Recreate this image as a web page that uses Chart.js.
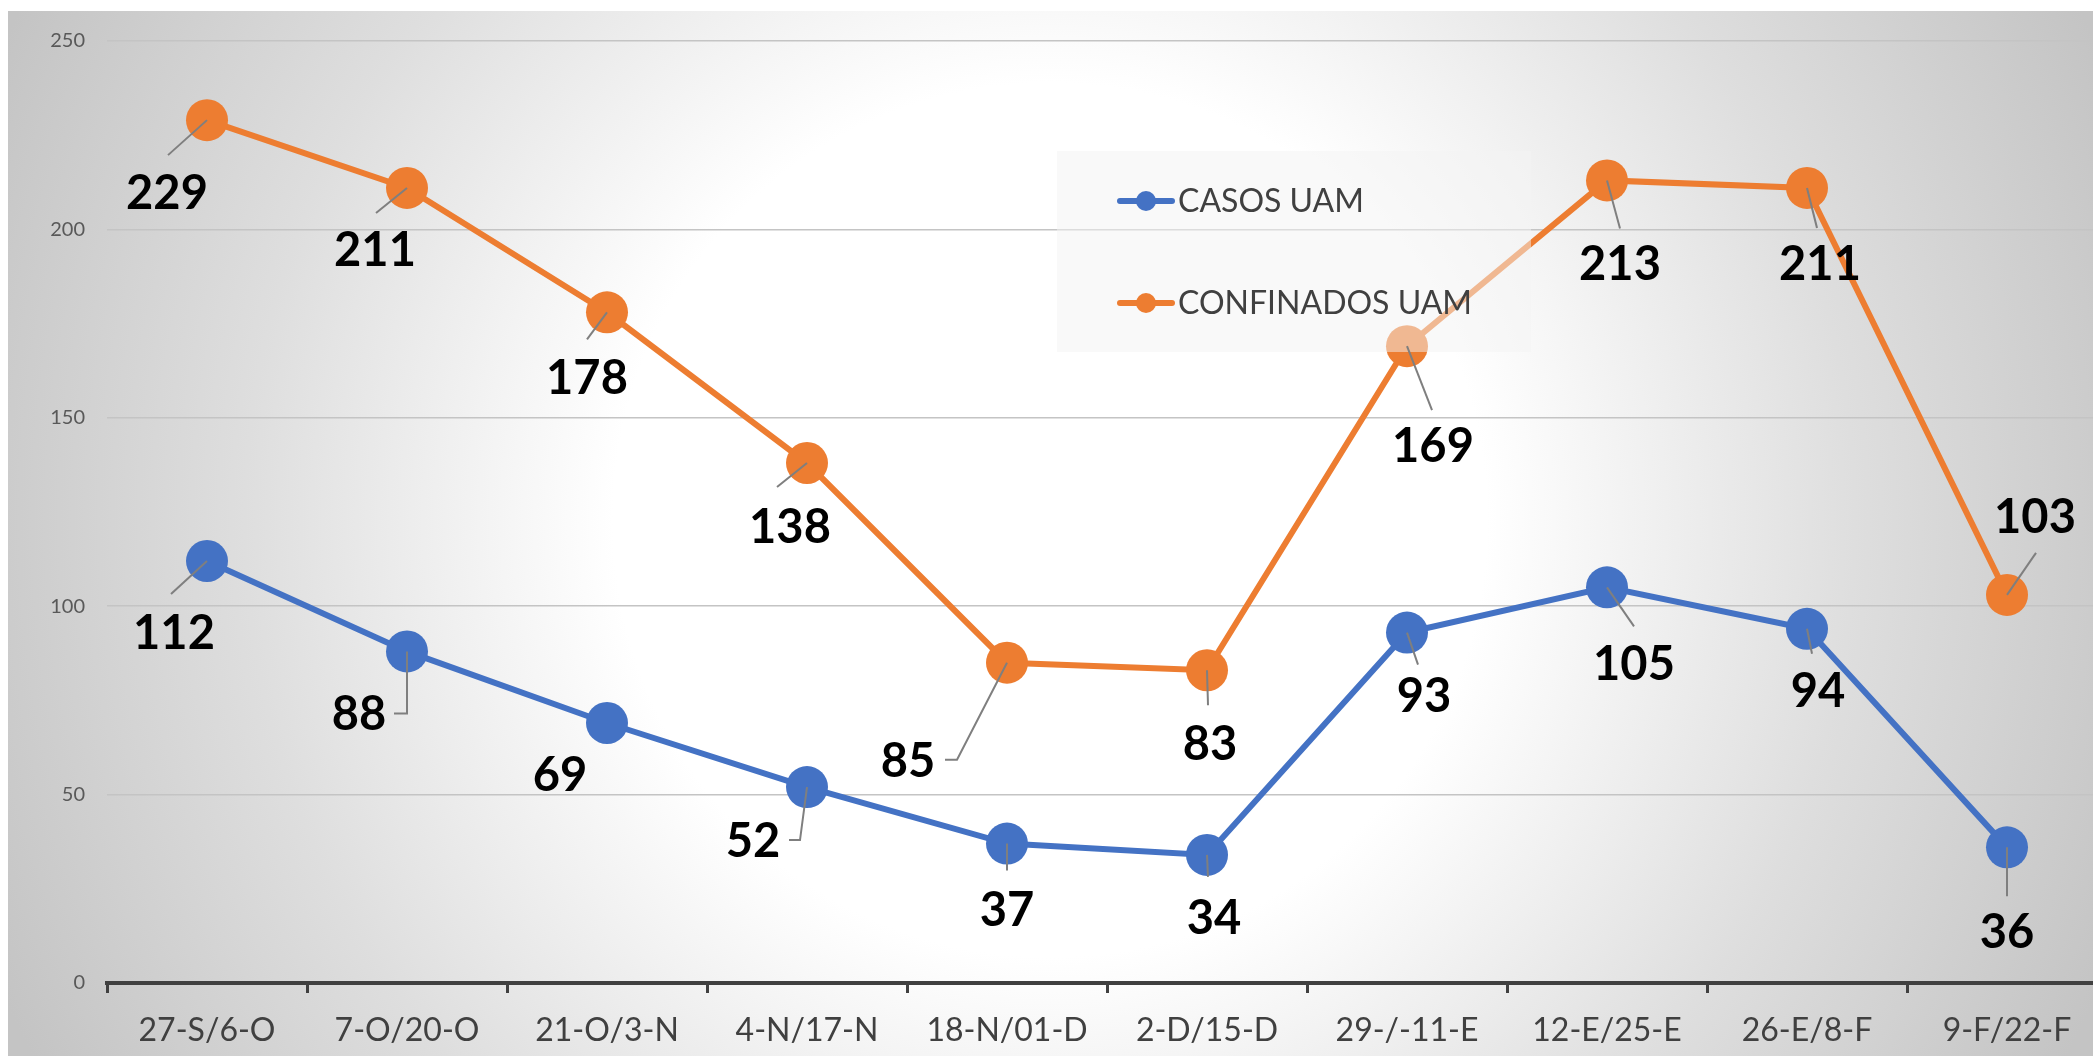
<!DOCTYPE html>
<html>
<head>
<meta charset="utf-8">
<title>Casos y confinados UAM</title>
<script src="https://cdn.jsdelivr.net/npm/chart.js@4/dist/chart.umd.min.js"></script>
<style>
    html, body { margin: 0; padding: 0; background: #ffffff; overflow: hidden; }
    #chartCanvas { display: block; }
</style>
</head>
<body>
<canvas id="chartCanvas" width="2200" height="1056"></canvas>
<script>
// ============================================================================
// Data
// ============================================================================
const periodLabels = [
    '27-S/6-O', '7-O/20-O', '21-O/3-N', '4-N/17-N', '18-N/01-D',
    '2-D/15-D', '29-/-11-E', '12-E/25-E', '26-E/8-F', '9-F/22-F'
];
const casosUam = [112, 88, 69, 52, 37, 34, 93, 105, 94, 36];
const confinadosUam = [229, 211, 178, 138, 85, 83, 169, 213, 211, 103];
const yTicks = [0, 50, 100, 150, 200, 250];

// label placement: [labelDx, labelDy, leaderDx, leaderDy, elbowDx]
const casosLabelPos = [
    [-33, 73, -36, 33], [-48, 63, 0, 62, -13], [-47, 53], [-54, 55, -7, 53, -18], [0, 67, 0, 27],
    [7, 64, 1, 22], [17, 64, 11, 32], [27, 77, 27, 39], [11, 63, 5, 25], [0, 85, 0, 49]
];
const confinadosLabelPos = [
    [-40, 74, -39, 35], [-32, 63, -31, 25], [-20, 67, -20, 27], [-17, 65, -30, 24], [-99, 99, -50, 97, -62],
    [3, 75, 1, 35], [26, 101, 25, 64], [13, 84, 13, 48], [13, 77, 10, 40], [28, -77, 29, -42]
];

const BLUE = '#4472C4';
const ORANGE = '#ED7D31';
const FONT = 'Lato, "Open Sans", "Noto Sans", sans-serif';

// ============================================================================
// Plugins
// ============================================================================
const backgroundPlugin = {
    id: 'gradientBackground',
    beforeDraw(chart) {
        const ctx = chart.ctx;
        ctx.save();
        ctx.fillStyle = '#ffffff';
        ctx.fillRect(0, 0, chart.width, chart.height);
        const grad = ctx.createRadialGradient(1050, 520, 0, 1050, 520, 1150);
        grad.addColorStop(0, '#ffffff');
        grad.addColorStop(0.38, '#ffffff');
        grad.addColorStop(0.7, '#dedede');
        grad.addColorStop(1, '#c4c4c4');
        ctx.fillStyle = grad;
        ctx.fillRect(8, 11, chart.width - 8, chart.height - 11);
        ctx.restore();
    }
};

const legendBoxPlugin = {
    id: 'legendBox',
    afterDatasetsDraw(chart) {
        const ctx = chart.ctx;
        ctx.save();
        ctx.fillStyle = 'rgba(244, 244, 244, 0.5)';
        ctx.fillRect(1057, 151, 474, 201);
        const rows = [
            { text: 'CASOS UAM', color: BLUE, y: 201 },
            { text: 'CONFINADOS UAM', color: ORANGE, y: 303 }
        ];
        rows.forEach(r => {
            ctx.strokeStyle = r.color;
            ctx.lineWidth = 6;
            ctx.lineCap = 'round';
            ctx.beginPath();
            ctx.moveTo(1120, r.y);
            ctx.lineTo(1172, r.y);
            ctx.stroke();
            ctx.fillStyle = r.color;
            ctx.beginPath();
            ctx.arc(1146, r.y, 10, 0, Math.PI * 2);
            ctx.fill();
            ctx.fillStyle = '#404040';
            ctx.font = '32px ' + FONT;
            ctx.textAlign = 'left';
            ctx.textBaseline = 'middle';
            ctx.fillText(r.text, 1178, r.y + 1);
        });
        ctx.restore();
    }
};

const dataLabelPlugin = {
    id: 'leaderLabels',
    afterDatasetsDraw(chart) {
        const ctx = chart.ctx;
        const placements = [casosLabelPos, confinadosLabelPos];
        ctx.save();
        chart.data.datasets.forEach((ds, di) => {
            const meta = chart.getDatasetMeta(di);
            meta.data.forEach((pt, i) => {
                const p = placements[di][i];
                if (p.length >= 4) {
                    ctx.strokeStyle = '#7f7f7f';
                    ctx.lineWidth = 2;
                    ctx.lineCap = 'butt';
                    ctx.beginPath();
                    ctx.moveTo(pt.x, pt.y);
                    ctx.lineTo(pt.x + p[2], pt.y + p[3]);
                    if (p.length === 5) ctx.lineTo(pt.x + p[4], pt.y + p[3]);
                    ctx.stroke();
                }
                ctx.fillStyle = '#000000';
                ctx.font = 'bold 47px ' + FONT;
                ctx.textAlign = 'center';
                ctx.textBaseline = 'middle';
                ctx.fillText(String(ds.data[i]), pt.x + p[0], pt.y + p[1]);
            });
        });
        ctx.restore();
    }
};

// ============================================================================
// Chart
// ============================================================================
const ctx = document.getElementById('chartCanvas').getContext('2d');

new Chart(ctx, {
    type: 'line',
    data: {
        labels: periodLabels,
        datasets: [
            {
                label: 'CASOS UAM',
                data: casosUam,
                borderColor: BLUE,
                backgroundColor: BLUE,
                borderWidth: 6,
                pointRadius: 21,
                pointBorderWidth: 0,
                pointBackgroundColor: BLUE,
                tension: 0
            },
            {
                label: 'CONFINADOS UAM',
                data: confinadosUam,
                borderColor: ORANGE,
                backgroundColor: ORANGE,
                borderWidth: 6,
                pointRadius: 21,
                pointBorderWidth: 0,
                pointBackgroundColor: ORANGE,
                tension: 0
            }
        ]
    },
    options: {
        responsive: false,
        animation: false,
        devicePixelRatio: 1,
        layout: {
            padding: { left: 0, top: 41, right: 93, bottom: 0 }
        },
        scales: {
            x: {
                offset: true,
                grid: {
                    offset: true,
                    drawOnChartArea: false,
                    drawTicks: true,
                    tickLength: 10,
                    tickColor: '#404040',
                    tickWidth: 3
                },
                border: { display: true, color: '#404040', width: 4 },
                ticks: {
                    color: '#404040',
                    font: { family: FONT, size: 32 },
                    padding: 18,
                    maxRotation: 0,
                    autoSkip: false
                },
                afterFit: (scale) => { scale.height = 73; }
            },
            y: {
                min: yTicks[0],
                max: yTicks[yTicks.length - 1],
                afterBuildTicks: (scale) => { scale.ticks = yTicks.map(v => ({ value: v })); },
                grid: { color: '#c4c4c4', lineWidth: 1.5, drawTicks: false },
                border: { display: false },
                ticks: {
                    color: '#595959',
                    font: { family: FONT, size: 20 },
                    padding: 22
                },
                afterFit: (scale) => { scale.width = 107; }
            }
        },
        plugins: {
            legend: { display: false },
            tooltip: { enabled: false }
        }
    },
    plugins: [backgroundPlugin, legendBoxPlugin, dataLabelPlugin]
});
</script>
</body>
</html>
